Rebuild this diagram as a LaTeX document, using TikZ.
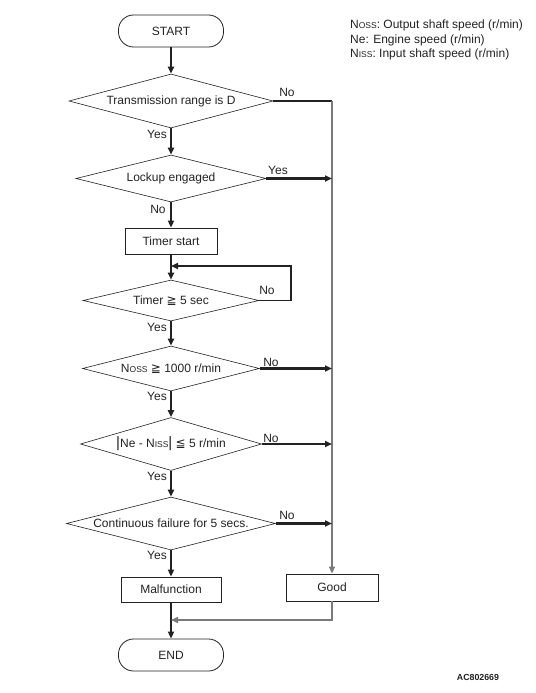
\documentclass[tikz,border=0pt]{standalone}
\usepackage{fontspec}
\setmainfont{Liberation Sans}
\newfontfamily\symfont{DejaVu Sans}
\usetikzlibrary{shapes.geometric,arrows.meta}
\definecolor{ink}{HTML}{222222}
\definecolor{rail}{HTML}{7A7A7A}
\newcommand{\subsc}[1]{{\fontsize{8.5bp}{10bp}\selectfont #1}}

\begin{document}
\begin{tikzpicture}[x=1bp, y=-1bp, color=ink,
  font=\fontsize{12bp}{14bp}\selectfont,
  term/.style={draw, rounded corners=15bp, minimum width=105bp, minimum height=32bp, line width=0.8bp},
  proc/.style={draw, minimum height=26bp, inner sep=0pt, line width=0.8bp},
  test/.style={draw, diamond, inner sep=0pt, line width=0.6bp},
  flow/.style={line width=2.4bp, -{Triangle[length=7bp,width=6bp]}},
  back/.style={line width=1.4bp, rail},
  tag/.style={inner sep=0pt}]
\useasboundingbox (0,0) rectangle (536,693);
% Terminals and steps
\node [term] (start) at (171,31) {START};
\node [test, minimum width=204bp, minimum height=54bp, aspect=3.8] (range) at (171,101) {Transmission range is D};
\node [test, minimum width=190bp, minimum height=47bp, aspect=4] (lockup) at (171,178.5) {Lockup engaged};
\node [proc, minimum width=92bp] (timer) at (171,241) {Timer start};
\node [test, minimum width=176bp, minimum height=41bp, aspect=4.3] (timer5) at (171,300.5) {Timer {\symfont ≧} 5 sec};
\node [test, minimum width=177bp, minimum height=45bp, aspect=3.9] (noss) at (171,368.5) {N\subsc{OSS} {\symfont ≧} 1000 r/min};
\node [test, minimum width=181bp, minimum height=53bp, aspect=3.4] (slip) at (171,444) {{\fontsize{15bp}{15bp}\selectfont|}Ne - N\subsc{ISS}{\fontsize{15bp}{15bp}\selectfont|} {\symfont ≦} 5 r/min};
\node [test, minimum width=209bp, minimum height=53bp, aspect=3.94] (cont) at (171,523.5) {Continuous failure for 5 secs.};
\node [proc, minimum width=100bp, minimum height=25bp] (fault) at (171,589.5) {Malfunction};
\node [proc, minimum width=92bp, minimum height=27bp] (good) at (332,587.5) {Good};
\node [term] (end) at (171,655) {END};
% Corners
\coordinate (loop) at (291,266);
\coordinate (join) at (171,266);
\coordinate (merge) at (171,620);
% Main flow
\draw [flow] (start) -- (range);
\draw [flow] (range) -- (lockup);
\draw [flow] (lockup) -- (timer);
\draw [flow] (timer) -- (timer5);
\draw [flow] (timer5) -- (noss);
\draw [flow] (noss) -- (slip);
\draw [flow] (slip) -- (cont);
\draw [flow] (cont) -- (fault);
\draw [flow] (fault) -- (end);
% Loop and rail
\draw [line width=1.6bp, -{Triangle[length=7bp,width=6bp]}] (timer5.east) -| (loop) -- (join);
\draw [line width=2.4bp] (range.east) -- (range.east -| good.north);
\draw [back, -{Triangle[length=7bp,width=6bp]}] (range.east -| good.north) -- (good.north);
\draw [flow] (lockup.east) -- (lockup.east -| good.north);
\draw [flow] (noss.east) -- (noss.east -| good.north);
\draw [flow] (slip.east) -- (slip.east -| good.north);
\draw [flow] (cont.east) -- (cont.east -| good.north);
\draw [back, -{Triangle[length=7bp,width=6bp]}] (good.south) |- (merge);
% Labels
\node [tag] (no1) at (287,92) {No};
\node [tag] (yes1) at (157,134) {Yes};
\node [tag] (yes2) at (278,170) {Yes};
\node [tag] (no2) at (158,209) {No};
\node [tag] (no3) at (267,290) {No};
\node [tag] (yes3) at (157,327) {Yes};
\node [tag] (no4) at (271,362) {No};
\node [tag] (yes4) at (157,396) {Yes};
\node [tag] (no5) at (271,438) {No};
\node [tag] (yes5) at (157,476) {Yes};
\node [tag] (no6) at (287,515) {No};
\node [tag] (yes6) at (157,555) {Yes};
% Legend
\node [tag, anchor=west] (leg1) at (350,25) {N\subsc{OSS}: Output shaft speed (r/min)};
\node [tag, anchor=west] (leg2) at (350,40) {Ne: Engine speed (r/min)};
\node [tag, anchor=west] (leg3) at (350,54) {N\subsc{ISS}: Input shaft speed (r/min)};
\node [tag, font=\fontsize{8.8bp}{10bp}\selectfont\bfseries] (code) at (478,677) {AC802669};
\end{tikzpicture}
\end{document}
